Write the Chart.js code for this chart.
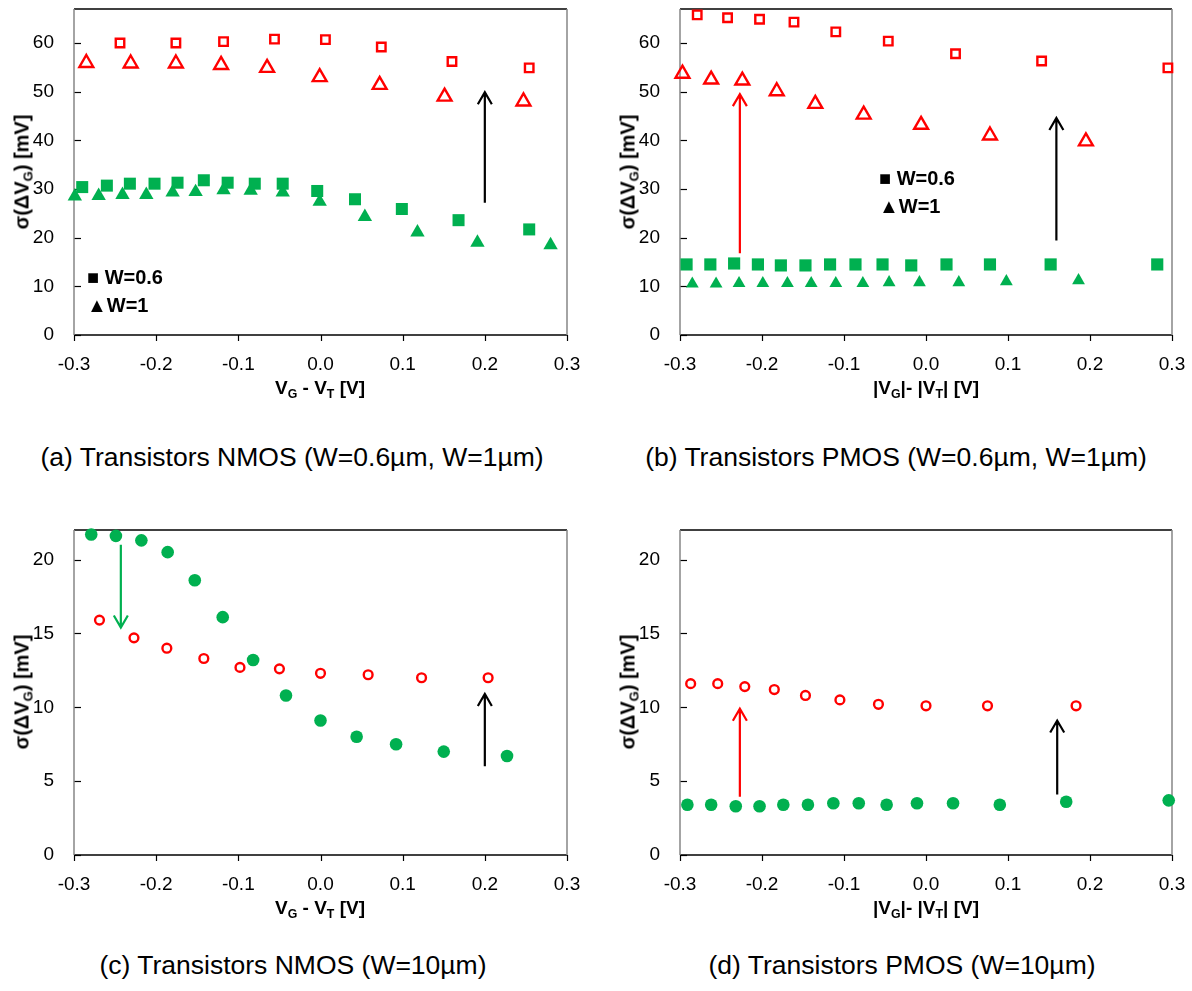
<!DOCTYPE html>
<html>
<head>
<meta charset="utf-8">
<script src="https://cdn.jsdelivr.net/npm/chart.js@4.4.1/dist/chart.umd.min.js"></script>
<style>
  body { margin: 0; background: #fff; }
  #page { position: relative; width: 1192px; height: 991px; overflow: hidden; font-family: "Liberation Sans", Arial, sans-serif; color: #000; }
  canvas { position: absolute; }
  .ytitle { position: absolute; font-weight: bold; font-size: 20px; white-space: nowrap; transform: translate(-50%, -50%) rotate(-90deg); }
  .xtitle { position: absolute; font-weight: bold; font-size: 19px; white-space: nowrap; transform: translate(-50%, -50%); }
  .caption { position: absolute; font-size: 26.5px; white-space: nowrap; transform: translate(-50%, -50%); }
  .legend { position: absolute; font-weight: bold; font-size: 20px; line-height: 28px; white-space: nowrap; }
  sub { font-size: 0.65em; vertical-align: -0.3em; line-height: 0; }
</style>
</head>
<body>
<div id="page">
  <canvas id="chartA" width="590" height="390" style="left:0;top:-10px"></canvas>
  <canvas id="chartB" width="590" height="390" style="left:600px;top:-10px"></canvas>
  <canvas id="chartC" width="590" height="390" style="left:0;top:510px"></canvas>
  <canvas id="chartD" width="590" height="390" style="left:600px;top:510px"></canvas>

  <div class="ytitle" style="left:22px;top:172px">σ(ΔV<sub>G</sub>) [mV]</div>
  <div class="ytitle" style="left:628px;top:172px">σ(ΔV<sub>G</sub>) [mV]</div>
  <div class="ytitle" style="left:22px;top:692px">σ(ΔV<sub>G</sub>) [mV]</div>
  <div class="ytitle" style="left:628px;top:692px">σ(ΔV<sub>G</sub>) [mV]</div>

  <div class="xtitle" style="left:320px;top:388px">V<sub>G</sub> - V<sub>T</sub> [V]</div>
  <div class="xtitle" style="left:926px;top:388px">|V<sub>G</sub>|- |V<sub>T</sub>| [V]</div>
  <div class="xtitle" style="left:320px;top:908px">V<sub>G</sub> - V<sub>T</sub> [V]</div>
  <div class="xtitle" style="left:926px;top:908px">|V<sub>G</sub>|- |V<sub>T</sub>| [V]</div>

  <div class="legend" style="left:87px;top:263px">■ W=0.6<br>▲W=1</div>
  <div class="legend" style="left:879px;top:164px">■ W=0.6<br>▲W=1</div>

  <div class="caption" style="left:292px;top:457px">(a) Transistors NMOS (W=0.6µm, W=1µm)</div>
  <div class="caption" style="left:896px;top:457px">(b) Transistors PMOS (W=0.6µm, W=1µm)</div>
  <div class="caption" style="left:293px;top:965px">(c) Transistors NMOS (W=10µm)</div>
  <div class="caption" style="left:902px;top:965px">(d) Transistors PMOS (W=10µm)</div>
</div>

<script>
// axes
const xTicks = [-0.3, -0.2, -0.1, 0.0, 0.1, 0.2, 0.3];
const yTicksTop = [0, 10, 20, 30, 40, 50, 60];
const yMaxTop = 67;
const yTicksBottom = [0, 5, 10, 15, 20];
const yMaxBottom = 22;

// (a) NMOS W=0.6 / W=1
const aRedSquareX = [-0.244, -0.176, -0.118, -0.056, 0.006, 0.074, 0.160, 0.254];
const aRedSquareY = [60.0, 60.0, 60.3, 60.8, 60.7, 59.2, 56.2, 54.9];
const aRedTriX = [-0.285, -0.231, -0.176, -0.121, -0.065, -0.001, 0.072, 0.151, 0.247];
const aRedTriY = [55.9, 55.8, 55.8, 55.5, 54.9, 53.0, 51.4, 49.0, 48.0];
const aGreenSquareX = [-0.290, -0.260, -0.232, -0.202, -0.174, -0.142, -0.113, -0.080, -0.046, -0.004, 0.042, 0.099, 0.168, 0.254];
const aGreenSquareY = [30.4, 30.7, 31.1, 31.1, 31.3, 31.8, 31.3, 31.1, 31.1, 29.6, 27.9, 25.9, 23.6, 21.7];
const aGreenTriX = [-0.299, -0.270, -0.241, -0.212, -0.180, -0.152, -0.118, -0.085, -0.046, -0.001, 0.054, 0.118, 0.191, 0.280];
const aGreenTriY = [28.5, 28.6, 28.8, 28.8, 29.3, 29.4, 29.8, 29.7, 29.3, 27.4, 24.3, 21.1, 19.0, 18.5];

// (b) PMOS W=0.6 / W=1
const bRedSquareX = [-0.279, -0.242, -0.203, -0.161, -0.110, -0.046, 0.036, 0.141, 0.295];
const bRedSquareY = [65.8, 65.2, 64.9, 64.3, 62.3, 60.4, 57.8, 56.3, 54.9];
const bRedTriX = [-0.297, -0.262, -0.224, -0.182, -0.135, -0.076, -0.006, 0.078, 0.195];
const bRedTriY = [53.7, 52.5, 52.3, 50.1, 47.5, 45.3, 43.2, 41.0, 39.8];
const bGreenSquareX = [-0.292, -0.263, -0.234, -0.205, -0.177, -0.147, -0.117, -0.086, -0.053, -0.018, 0.025, 0.078, 0.152, 0.282];
const bGreenSquareY = [14.5, 14.5, 14.7, 14.5, 14.3, 14.3, 14.5, 14.5, 14.5, 14.3, 14.5, 14.5, 14.5, 14.5];
const bGreenTriX = [-0.285, -0.256, -0.228, -0.199, -0.169, -0.140, -0.110, -0.077, -0.045, -0.008, 0.040, 0.098, 0.186];
const bGreenTriY = [10.5, 10.5, 10.6, 10.6, 10.6, 10.6, 10.6, 10.6, 10.8, 10.8, 10.8, 11.0, 11.2];

// (c) NMOS W=10
const cGreenX = [-0.279, -0.249, -0.218, -0.186, -0.153, -0.119, -0.082, -0.042, 0.000, 0.044, 0.092, 0.150, 0.227];
const cGreenY = [21.7, 21.6, 21.3, 20.5, 18.6, 16.1, 13.2, 10.8, 9.1, 8.0, 7.5, 7.0, 6.7];
const cRedX = [-0.269, -0.227, -0.187, -0.142, -0.098, -0.050, 0.000, 0.058, 0.123, 0.204];
const cRedY = [15.9, 14.7, 14.0, 13.3, 12.7, 12.6, 12.3, 12.2, 12.0, 12.0];

// (d) PMOS W=10
const dRedX = [-0.287, -0.254, -0.221, -0.185, -0.147, -0.105, -0.058, 0.000, 0.075, 0.183];
const dRedY = [11.6, 11.6, 11.4, 11.2, 10.8, 10.5, 10.2, 10.1, 10.1, 10.1];
const dGreenX = [-0.291, -0.262, -0.232, -0.203, -0.174, -0.144, -0.113, -0.082, -0.048, -0.011, 0.033, 0.090, 0.171, 0.296];
const dGreenY = [3.4, 3.4, 3.3, 3.3, 3.4, 3.4, 3.5, 3.5, 3.4, 3.5, 3.5, 3.4, 3.6, 3.7];

// arrows: [x, y from, y to, colour]
const aArrows = [[0.2, 27.2, 49.9, '#000']];
const bArrows = [[-0.227, 16.8, 49.5, '#ff0000'], [0.159, 19.4, 44.6, '#000']];
const cArrows = [[-0.243, 21.0, 15.4, '#00b050'], [0.2, 6.0, 10.9, '#000']];
const dArrows = [[-0.227, 3.95, 9.9, '#ff0000'], [0.16, 4.1, 9.1, '#000']];

const RED = '#ff0000';
const GREEN = '#00b050';
const FONT = '"Liberation Sans", Arial, sans-serif';

const pts = (xs, ys) => xs.map((v, i) => ({ x: v, y: ys[i] }));

function openSet(xs, ys, style, r) {
  return { data: pts(xs, ys), pointStyle: style, pointRadius: r, borderColor: RED,
           backgroundColor: 'rgba(0,0,0,0)', borderWidth: 2.4, clip: false };
}
function filledSet(xs, ys, style, r) {
  return { data: pts(xs, ys), pointStyle: style, pointRadius: r, borderColor: GREEN,
           backgroundColor: GREEN, borderWidth: 0, clip: false };
}

// no extra room for edge labels, the layout padding already covers it
function noEdgePadding(s) {
  s.paddingTop = 0; s.paddingBottom = 0; s.paddingLeft = 0; s.paddingRight = 0;
}

// frame, inside y ticks, outside x ticks, arrows
const framePlugin = {
  id: 'frame',
  beforeDatasetsDraw(chart) {
    const { ctx, chartArea, scales } = chart;
    const { left, right, top, bottom } = chartArea;
    const line = (x1, y1, x2, y2) => { ctx.beginPath(); ctx.moveTo(x1, y1); ctx.lineTo(x2, y2); ctx.stroke(); };
    ctx.save();
    ctx.strokeStyle = '#000';
    ctx.lineWidth = 1.2;
    scales.y.ticks.forEach(t => {
      const py = Math.round(scales.y.getPixelForValue(t.value)) + 0.5;
      line(left, py, left + 7, py);
    });
    scales.x.ticks.forEach(t => {
      const px = Math.round(scales.x.getPixelForValue(t.value)) + 0.5;
      line(px, bottom, px, bottom + 6);
    });
    ctx.lineWidth = 1.5;
    line(left, top, right, top);
    line(left, bottom, right, bottom);
    ctx.strokeStyle = '#868686';
    line(left, top, left, bottom);
    line(right, top, right, bottom);
    ctx.restore();
  },
  afterDatasetsDraw(chart, args, opts) {
    const { ctx, scales } = chart;
    ctx.save();
    ctx.lineWidth = 2.2;
    (opts.arrows || []).forEach(a => {
      const px = scales.x.getPixelForValue(a[0]);
      const p0 = scales.y.getPixelForValue(a[1]);
      const p1 = scales.y.getPixelForValue(a[2]);
      const dir = p1 > p0 ? 1 : -1;
      ctx.strokeStyle = a[3];
      ctx.beginPath();
      ctx.moveTo(px, p0);
      ctx.lineTo(px, p1);
      ctx.moveTo(px - 7, p1 - dir * 12);
      ctx.lineTo(px, p1);
      ctx.lineTo(px + 7, p1 - dir * 12);
      ctx.stroke();
    });
    ctx.restore();
  }
};

function makeChart(id, datasets, yTicks, yMax, yWidth, pad, arrows) {
  return new Chart(document.getElementById(id), {
    type: 'scatter',
    data: { datasets },
    options: {
      responsive: false,
      animation: false,
      events: [],
      layout: { padding: pad },
      plugins: { legend: { display: false }, tooltip: { enabled: false }, frame: { arrows } },
      scales: {
        x: {
          type: 'linear', min: -0.3, max: 0.3,
          afterBuildTicks: s => { s.ticks = xTicks.map(v => ({ value: v })); },
          afterFit: s => { s.height = 45; noEdgePadding(s); },
          grid: { display: false, drawTicks: false },
          border: { display: false },
          ticks: { padding: 18, color: '#000', font: { family: FONT, size: 19 }, callback: v => Number(v).toFixed(1) }
        },
        y: {
          type: 'linear', min: 0, max: yMax,
          afterBuildTicks: s => { s.ticks = yTicks.map(v => ({ value: v })); },
          afterFit: s => { s.width = yWidth; noEdgePadding(s); },
          grid: { display: false, drawTicks: false },
          border: { display: false },
          ticks: { padding: 20, color: '#000', font: { family: FONT, size: 19 }, callback: v => String(v) }
        }
      }
    },
    plugins: [framePlugin]
  });
}

makeChart('chartA', [
  openSet(aRedSquareX, aRedSquareY, 'rect', 6.0),
  openSet(aRedTriX, aRedTriY, 'triangle', 8),
  filledSet(aGreenSquareX, aGreenSquareY, 'rect', 8.5),
  filledSet(aGreenTriX, aGreenTriY, 'triangle', 8.3)
], yTicksTop, yMaxTop, 74, { top: 19, right: 23, left: 0, bottom: 0 }, aArrows);

makeChart('chartB', [
  openSet(bRedSquareX, bRedSquareY, 'rect', 6.0),
  openSet(bRedTriX, bRedTriY, 'triangle', 8),
  filledSet(bGreenSquareX, bGreenSquareY, 'rect', 8.6),
  filledSet(bGreenTriX, bGreenTriY, 'triangle', 7.4)
], yTicksTop, yMaxTop, 80, { top: 19, right: 18, left: 0, bottom: 0 }, bArrows);

makeChart('chartC', [
  filledSet(cGreenX, cGreenY, 'circle', 6.3),
  openSet(cRedX, cRedY, 'circle', 4.4)
], yTicksBottom, yMaxBottom, 74, { top: 20, right: 23, left: 0, bottom: 0 }, cArrows);

makeChart('chartD', [
  openSet(dRedX, dRedY, 'circle', 4.4),
  filledSet(dGreenX, dGreenY, 'circle', 6.3)
], yTicksBottom, yMaxBottom, 80, { top: 20, right: 18, left: 0, bottom: 0 }, dArrows);
</script>
</body>
</html>
